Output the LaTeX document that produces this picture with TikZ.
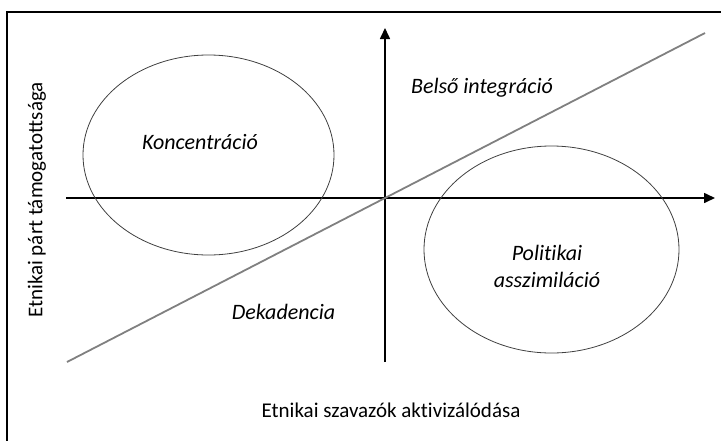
\documentclass[tikz,border=0pt]{standalone}
\usepackage{fontspec}
\setmainfont{Carlito}[Ligatures={NoCommon}]
\usetikzlibrary{arrows.meta,shapes.geometric}
\tikzset{
  axis/.style={line width=1.6pt, black, -{Triangle[length=11pt,width=10pt]}},
  bubble/.style={draw=black!75, line width=0.8pt, ellipse, inner sep=0pt},
  trend/.style={draw=black!50, line width=1.8pt},
  quad/.style={font=\fontsize{22}{27}\selectfont\itshape, text=black, align=center, inner sep=0pt},
  axlabel/.style={font=\fontsize{21}{25}\selectfont, text=black, inner sep=0pt},
  frame/.style={line width=1.6pt, black}
}
\begin{document}
\begin{tikzpicture}[x=1pt,y=-1pt]
\useasboundingbox (0,0) rectangle (721,440);
\draw[frame] (7,445) -- (7,12) -- (726,12);
% axes
\coordinate (o) at (385,198);
\coordinate (ybot) at (385,362);
\coordinate (ytop) at (385,28);
\coordinate (xl) at (66,198);
\coordinate (xr) at (715,198);
\draw[axis] (ybot) -- (ytop);
\draw[axis] (xl) -- (xr);
% trend line
\coordinate (d1) at (67,362);
\coordinate (d2) at (705,33);
\draw[trend] (d1) -- (d2);
% ellipses
\node[bubble, minimum width=251pt, minimum height=200pt] (e1) at (208.5,155) {};
\node[bubble, minimum width=255pt, minimum height=207pt] (e2) at (551.5,249.5) {};
% labels
\node[quad] (k) at (200,142) {Koncentráció};
\node[quad] (b) at (482,88) {Belső integráció};
\node[quad] (d) at (283.5,312) {Dekadencia};
\node[quad] (p) at (547,266) {Politikai\\asszimiláció};
\node[axlabel] (xlab) at (391,410) {Etnikai szavazók aktivizálódása};
\node[axlabel, rotate=90] (ylab) at (37,200) {Etnikai párt támogatottsága};
\end{tikzpicture}
\end{document}
